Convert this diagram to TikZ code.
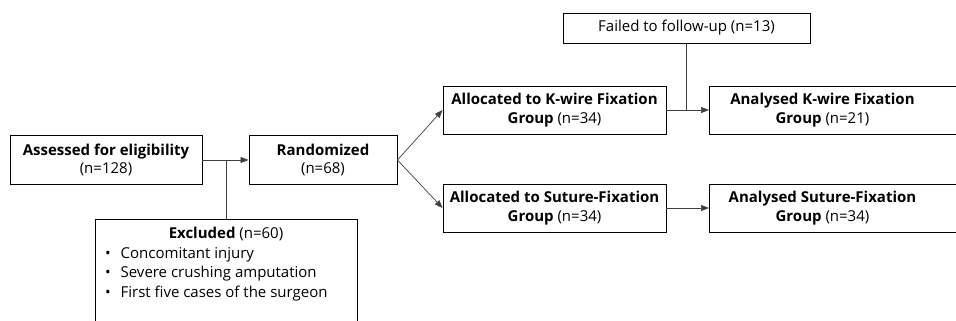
\documentclass[tikz,border=0pt]{standalone}
\usepackage{fontspec}
\setmainfont{Open Sans}
\usetikzlibrary{arrows.meta}
\tikzset{blk/.style = {draw, line width=0.9pt, inner sep=0, align=center, font=\fontsize{15}{18.5}\selectfont}}
\tikzset{link/.style = {draw=black!75, line width=0.7pt}}
\tikzset{arr/.style = {link, -{Triangle[length=8pt,width=6pt]}}}

\begin{document}
\begin{tikzpicture}[x=1pt, y=-1pt]
      \useasboundingbox (0,0) rectangle (956,321);
      \clip (0,0) rectangle (956,321);
      \node [blk, minimum width=192pt, minimum height=49pt] (assess) at (106,160) {\textbf{Assessed for eligibility}\\(n=128)};
      \node [blk, minimum width=148pt, minimum height=49pt] (rand) at (323,160) {\textbf{Randomized}\\(n=68)};
      \node [blk, minimum width=223pt, minimum height=48pt] (allocK) at (554.5,110) {\textbf{Allocated to K-wire Fixation}\\\textbf{Group} (n=34)};
      \node [blk, minimum width=223pt, minimum height=48pt] (allocS) at (554.5,208) {\textbf{Allocated to Suture-Fixation}\\\textbf{Group} (n=34)};
      \node [blk, minimum width=247pt, minimum height=30pt] (fail) at (686.5,28) {Failed to follow-up (n=13)};
      \node [blk, minimum height=48pt, anchor=west] (anaK) at (709,110) {\parbox{226pt}{\centering\textbf{Analysed K-wire Fixation}\\\textbf{Group} (n=21)}\hspace{40pt}};
      \node [blk, minimum height=48pt, anchor=west] (anaS) at (709,208) {\parbox{226pt}{\centering\textbf{Analysed Suture-Fixation}\\\textbf{Group} (n=34)}\hspace{40pt}};
      \node [blk, anchor=north, inner sep=4pt, font=\fontsize{15}{19.5}\selectfont] (excl) at (226,219) {\parbox[t][130pt][t]{254pt}{\vspace*{4pt}\centering\textbf{Excluded} (n=60)\par\raggedright
        \hspace*{6pt}\textbullet\hspace{10pt}Concomitant injury\\
        \hspace*{6pt}\textbullet\hspace{10pt}Severe crushing amputation\\
        \hspace*{6pt}\textbullet\hspace{10pt}First five cases of the surgeon}};
      \draw [arr] (assess) -- (rand);
      \draw [link] (excl.north) -- (excl.north |- assess.east);
      \draw [arr] (rand.east) -- (allocK.west);
      \draw [arr] (rand.east) -- (allocS.west);
      \draw [arr] (allocK) -- (anaK);
      \draw [arr] (allocS) -- (anaS);
      \draw [link] (fail.south) -- (fail.south |- allocK.east);
    \end{tikzpicture}
\end{document}
